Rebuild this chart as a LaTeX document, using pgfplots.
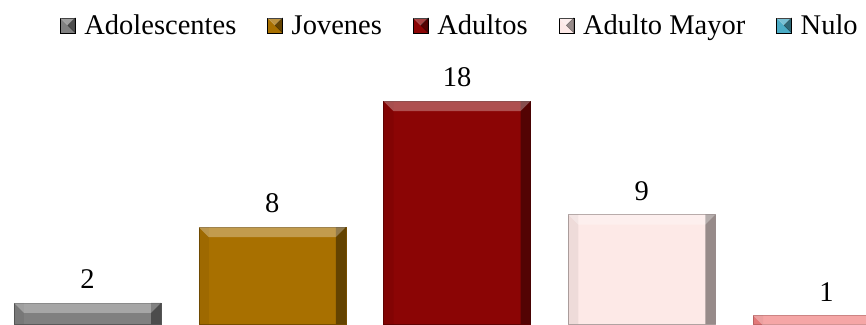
\documentclass[border=0pt]{standalone}
\usepackage{fontspec}
\setmainfont{Liberation Serif}
\usepackage{pgfplots}
\usepackage{pgfplotstable}
\pgfplotsset{compat=1.18}

\definecolor{cAdol}{RGB}{128,128,128}
\definecolor{cJov}{RGB}{168,112,0}
\definecolor{cAdu}{RGB}{139,5,5}
\definecolor{cMay}{RGB}{253,233,231}
\definecolor{cNulo}{RGB}{242,128,128}
\definecolor{cNuloLeg}{RGB}{75,172,198}

\newcommand{\bigfont}{\fontsize{28.5}{33}\selectfont}

% top bevel of each bar
\pgfdeclareplotmark{bevtop}{%
  \pgfpathmoveto{\pgfpoint{-73.5pt}{0pt}}%
  \pgfpathlineto{\pgfpoint{73.5pt}{0pt}}%
  \pgfpathlineto{\pgfpoint{63.5pt}{-10pt}}%
  \pgfpathlineto{\pgfpoint{-63.5pt}{-10pt}}%
  \pgfpathclose\pgfusepathqfill}

\pgfplotstableread{
x y
0 2
1 8
2 18
3 9
4 1
}\grupos

\begin{document}
\begin{tikzpicture}
\begin{axis}[
    scale only axis,
    width=866pt, height=324pt,
    xmin=-0.4736, xmax=4.2138,
    ymin=0.317, ymax=26.03,
    hide axis,
    clip=true,
    ybar, bar shift=0pt, bar width=147pt,
    /pgf/number format/assume math mode=true,
    legend columns=5,
    legend style={at={(axis description cs:0.531,1)}, anchor=north,
        yshift=-13pt, draw=none, fill=none, inner sep=0pt, font=\bigfont,
        /tikz/every odd column/.append style={column sep=7pt},
        /tikz/every even column/.append style={column sep=29pt}},
    legend image code/.code={
        \fill[#1] (0pt,-7pt) rectangle (15pt,8pt);
        \fill[white,opacity=0.25] (0pt,8pt) -- (15pt,8pt) -- (7.5pt,0.5pt) -- cycle;
        \fill[black,opacity=0.4] (15pt,8pt) -- (15pt,-7pt) -- (7.5pt,0.5pt) -- cycle;
    },
]
\addplot[fill=cAdol, draw=cAdol!70!black, forget plot] coordinates {(0,2)};
\addplot[fill=cJov, draw=cJov!70!black, forget plot] coordinates {(1,8)};
\addplot[fill=cAdu, draw=cAdu!70!black, forget plot] coordinates {(2,18)};
\addplot[fill=cMay, draw=cMay!70!black, forget plot] coordinates {(3,9)};
\addplot[fill=cNulo, draw=cNulo!80!black, forget plot] coordinates {(4,1)};

% bevel: dark right side, faint left side, light top
\addplot[fill=black, fill opacity=0.4, draw=none, bar width=10pt,
    bar shift=68.5pt, forget plot] table[x=x, y=y] {\grupos};
\addplot[fill=black, fill opacity=0.06, draw=none, bar width=10pt,
    bar shift=-68.5pt, forget plot] table[x=x, y=y] {\grupos};
\addplot[sharp plot, only marks, mark=bevtop, mark options={fill=white,
    fill opacity=0.3, draw=none}, forget plot,
    nodes near coords,
    every node near coord/.append style={font=\bigfont, inner sep=0pt,
        yshift=14pt, anchor=south, text=black, fill opacity=1, text opacity=1}]
    table[x=x, y=y] {\grupos};

\addlegendimage{fill=cAdol}
\addlegendentry{Adolescentes}
\addlegendimage{fill=cJov}
\addlegendentry{Jovenes}
\addlegendimage{fill=cAdu}
\addlegendentry{Adultos}
\addlegendimage{fill=cMay}
\addlegendentry{Adulto Mayor}
\addlegendimage{fill=cNuloLeg}
\addlegendentry{Nulo}
\end{axis}
\pgfresetboundingbox
\path[use as bounding box] (0,0) rectangle (866pt,324pt);
\end{tikzpicture}
\end{document}
